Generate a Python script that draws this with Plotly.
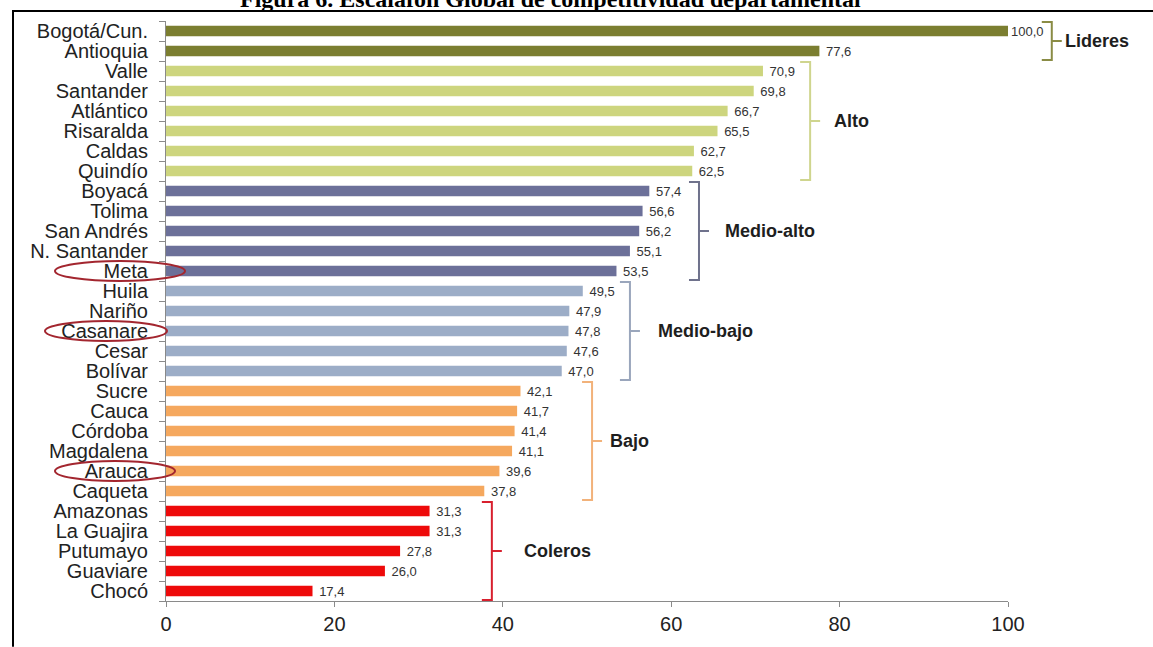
import plotly.graph_objects as go

# ---------------- data ----------------
departments = ["Bogotá/Cun.", "Antioquia", "Valle", "Santander", "Atlántico", "Risaralda",
               "Caldas", "Quindío", "Boyacá", "Tolima", "San Andrés", "N. Santander", "Meta",
               "Huila", "Nariño", "Casanare", "Cesar", "Bolívar", "Sucre", "Cauca", "Córdoba",
               "Magdalena", "Arauca", "Caqueta", "Amazonas", "La Guajira", "Putumayo",
               "Guaviare", "Chocó"]
scores = [100.0, 77.6, 70.9, 69.8, 66.7, 65.5, 62.7, 62.5, 57.4, 56.6, 56.2, 55.1, 53.5,
          49.5, 47.9, 47.8, 47.6, 47.0, 42.1, 41.7, 41.4, 41.1, 39.6, 37.8, 31.3, 31.3,
          27.8, 26.0, 17.4]
group_names = ["Lideres", "Alto", "Medio-alto", "Medio-bajo", "Bajo", "Coleros"]
group_sizes = [2, 6, 5, 5, 6, 5]
highlighted = ["Meta", "Casanare", "Arauca"]
x_ticks = [0, 20, 40, 60, 80, 100]
title_text = "Figura 6. Escalafón Global de competitividad departamental"

# ---------------- styles / positions ----------------
bar_colors = ["#7b7e30", "#cdd57e", "#6c7099", "#9cadc7", "#f5a85e", "#ee0a0a"]
bracket_colors = ["#8a8c45", "#cfd58e", "#6f728c", "#9aa6bc", "#f2b27a", "#d8202e"]
bracket_gap = [5.2, 5.6, 5.9, 5.6, 8.5, 7.4]      # data units beyond group max
label_shift = [11, 22, 24, 26, 16, 30]              # px from bracket line
ellipse_px = {"Meta": (55, 185), "Casanare": (45, 167), "Arauca": (55, 175)}

W, H = 1153, 647
ML, MR, MT, MB = 166, 145, 21, 44
PW, PH = W - ML - MR, H - MT - MB
XMIN, XMAX = 0, 100
N = len(departments)
FONT = "Liberation Sans, Arial"


def px_x(px):
    return (px - ML) / PW


def px_y(py):
    return (H - MB - py) / PH


def idx_y(i):
    return (N - 0.5 - i) / N


def dx(v):
    return (v - XMIN) / (XMAX - XMIN)


colors = []
for g, n in enumerate(group_sizes):
    colors += [bar_colors[g]] * n

labels = [("" if v >= XMAX else "\u00a0") + f"{v:.1f}".replace(".", ",") for v in scores]

fig = go.Figure()
fig.add_trace(go.Bar(
    x=scores, y=departments, orientation="h",
    marker=dict(color=colors, line=dict(width=0)),
    width=0.52,
    text=labels, textposition="outside", constraintext="none",
    textfont=dict(family=FONT, size=13, color="#333333"),
    cliponaxis=False, hoverinfo="x+y",
))

shapes = []
annotations = []
start = 0
for g, n in enumerate(group_sizes):
    first, last = start, start + n - 1
    gmax = max(scores[first:last + 1])
    xb = dx(gmax + bracket_gap[g])
    yt = idx_y(first) + 0.45 / N
    yb = idx_y(last) - 0.45 / N
    ym = (yt + yb) / 2
    hook = 10 / PW
    col = bracket_colors[g]
    path = (f"M {xb - hook} {yt} L {xb} {yt} L {xb} {yb} L {xb - hook} {yb} "
            f"M {xb} {ym} L {xb + hook} {ym}")
    shapes.append(dict(type="path", xref="paper", yref="paper", path=path,
                       line=dict(color=col, width=2)))
    annotations.append(dict(xref="paper", yref="paper", x=xb, y=ym,
                            xshift=label_shift[g], xanchor="left", yanchor="middle",
                            text=f"<b>{group_names[g]}</b>", showarrow=False,
                            font=dict(family=FONT, size=18, color="#1e1e1e")))
    start += n

for name in highlighted:
    i = departments.index(name)
    x0, x1 = ellipse_px[name]
    shapes.append(dict(type="circle", xref="paper", yref="paper",
                       x0=px_x(x0), x1=px_x(x1),
                       y0=idx_y(i) - 0.5 / N, y1=idx_y(i) + 0.5 / N,
                       line=dict(color="#a3262f", width=2), fillcolor="rgba(0,0,0,0)"))

# frame lines
shapes.append(dict(type="line", xref="paper", yref="paper",
                   x0=px_x(12), x1=px_x(W + 2), y0=px_y(11), y1=px_y(11),
                   line=dict(color="black", width=2)))
shapes.append(dict(type="line", xref="paper", yref="paper",
                   x0=px_x(13), x1=px_x(13), y0=px_y(10), y1=px_y(H + 2),
                   line=dict(color="black", width=2)))

annotations.append(dict(xref="paper", yref="paper", x=px_x(550), y=px_y(14),
                        xanchor="center", yanchor="bottom", showarrow=False,
                        text=f"<b>{title_text}</b>",
                        font=dict(family="Liberation Serif, Times New Roman", size=24,
                                  color="black")))

fig.update_layout(
    width=W, height=H,
    margin=dict(l=ML, r=MR, t=MT, b=MB, pad=0),
    paper_bgcolor="white", plot_bgcolor="white",
    showlegend=False,
    shapes=shapes, annotations=annotations,
    xaxis=dict(range=[XMIN, XMAX], tickmode="array", tickvals=x_ticks,
               ticktext=[str(t) for t in x_ticks],
               ticks="outside", ticklen=5, tickcolor="#8a8a8a", showline=True,
               linecolor="#8a8a8a", linewidth=1, showgrid=False, zeroline=False,
               tickfont=dict(family=FONT, size=20, color="#222222")),
    yaxis=dict(type="category", categoryorder="array", categoryarray=departments,
               tickmode="array", tickvals=departments, ticktext=departments,
               range=[N - 0.5, -0.5], ticks="outside", tickson="boundaries", ticklen=6,
               ticklabelstandoff=13,
               tickcolor="#8a8a8a", showline=True, linecolor="#8a8a8a", linewidth=1,
               showgrid=False, zeroline=False,
               tickfont=dict(family=FONT, size=20, color="#222222")),
)

fig.write_html("out.html")
